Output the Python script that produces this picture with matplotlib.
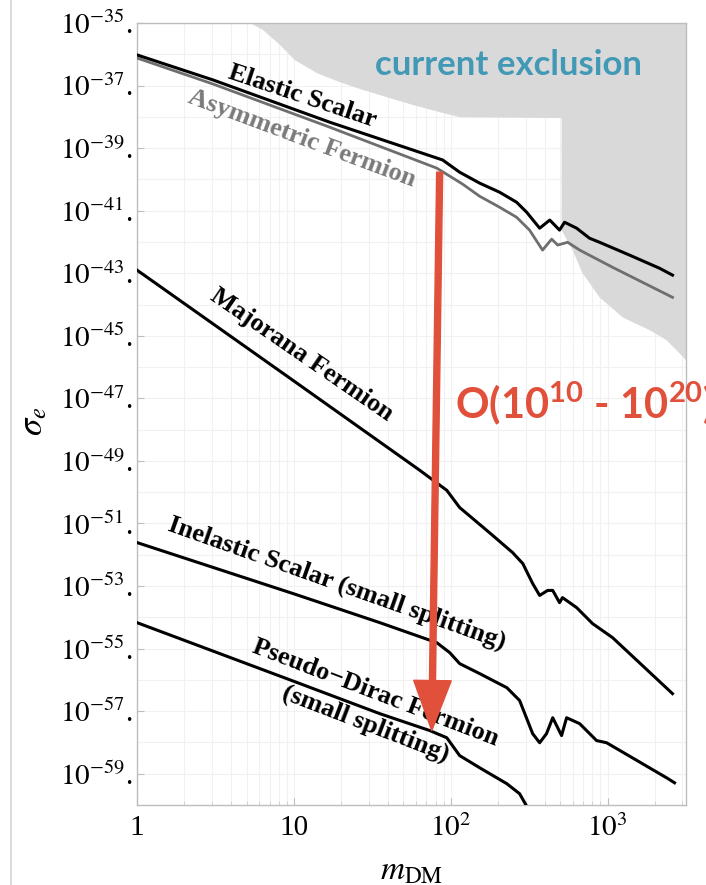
import matplotlib
matplotlib.use('Agg')
import matplotlib.pyplot as plt
import numpy as np

plt.rcParams['mathtext.fontset'] = 'stix'
plt.rcParams['mathtext.rm'] = 'Lato:bold'
plt.rcParams['mathtext.it'] = 'Lato:bold'
plt.rcParams['mathtext.bf'] = 'Lato:bold'

# ---- data (mass in GeV, cross section as log10) ----
m_elastic = [1, 3.05, 16.9, 88.9, 114, 153, 205, 263, 305, 369, 428, 494, 532, 635, 767, 889, 1380, 2143, 2594]
s_elastic = [-36.02, -36.82, -38.17, -39.38, -39.77, -40.12, -40.41, -40.73, -41.05, -41.56,
             -41.30, -41.62, -41.37, -41.56, -41.88, -42.01, -42.42, -42.84, -43.06]

m_asym = [1, 3.05, 16.9, 81.5, 119, 153, 205, 263, 318, 385, 440, 481, 556, 664, 1076, 2594]
s_asym = [-36.12, -36.95, -38.33, -39.64, -40.15, -40.54, -40.89, -41.21, -41.62, -42.26,
          -41.91, -42.10, -42.01, -42.26, -42.81, -43.77]

m_major = [1, 10.3, 63.5, 94.4, 114, 138, 185, 248, 288, 333, 369, 415, 447, 494, 516, 635, 802, 1076, 2594]
s_major = [-42.90, -46.49, -49.30, -49.94, -50.49, -50.84, -51.38, -51.93, -52.28, -52.92,
           -53.30, -53.14, -53.14, -53.53, -53.37, -53.69, -54.20, -54.65, -56.44]

m_inel = [1, 10.3, 35.3, 81.5, 98.6, 114, 153, 228, 275, 333, 369, 408, 447, 509, 548, 664, 851, 986, 2377, 2673]
s_inel = [-51.61, -53.27, -54.17, -54.81, -55.13, -55.48, -55.80, -56.25, -56.66, -57.72,
          -58.01, -57.72, -57.21, -57.78, -57.21, -57.40, -57.94, -58.01, -59.13, -59.29]

m_pdirac = [1, 10.3, 35.3, 73.5, 94.4, 114, 153, 228, 275, 318]
s_pdirac = [-54.17, -56.07, -57.08, -57.62, -57.85, -58.42, -58.81, -59.32, -59.64, -60.2]

m_excl = [5.25, 6.35, 8.15, 10.1, 14.0, 19.6, 27.5, 57.3, 85.1, 114, 509, 509, 598, 693,
          889, 1247, 1854, 2377, 2877, 3162, 3162]
s_excl = [-35.00, -35.22, -35.70, -36.18, -36.60, -36.89, -37.14, -37.62, -37.85, -38.01,
          -38.04, -41.62, -42.26, -43.00, -43.77, -44.41, -44.82, -45.14, -45.56, -45.78, -35.0]

y_tick_exp = [-35, -37, -39, -41, -43, -45, -47, -49, -51, -53, -55, -57, -59]
x_ticks = [1, 10, 100, 1000]
x_ticklabels = ['1', '10', r'$10^2$', r'$10^3$']

arrow_from = (85, -39.77)
arrow_to = (75.7, -57.62)

red = '#e1503a'
teal = '#4199b6'

fig = plt.figure(figsize=(7.06, 8.85), dpi=100)
ax = fig.add_axes([137 / 706, 80 / 885, 549 / 706, 782 / 885])

ax.set_xscale('log')
ax.set_yscale('log')
ax.set_xlim(1, 3162)
ax.set_ylim(1e-60, 1e-35)

# exclusion region
ax.fill(m_excl, 10.0 ** np.array(s_excl), color='#d9d9d9', lw=0, zorder=1)

ax.plot(m_asym, 10.0 ** np.array(s_asym), color='#6e6e6e', lw=2.0, zorder=3)
ax.plot(m_elastic, 10.0 ** np.array(s_elastic), color='black', lw=2.2, zorder=4)
ax.plot(m_major, 10.0 ** np.array(s_major), color='black', lw=2.2, zorder=4)
ax.plot(m_inel, 10.0 ** np.array(s_inel), color='black', lw=2.2, zorder=4)
ax.plot(m_pdirac, 10.0 ** np.array(s_pdirac), color='black', lw=2.2, zorder=4)

# ticks / grid
ax.set_yticks([10.0 ** e for e in y_tick_exp])
ax.set_yticklabels([r'$10^{%d}$.' % e for e in y_tick_exp], fontsize=21,
                   family='Liberation Serif')
ax.set_yticks([10.0 ** e for e in range(-60, -34)], minor=True)
ax.yaxis.set_minor_formatter(matplotlib.ticker.NullFormatter())
ax.set_xticks(x_ticks)
ax.set_xticklabels(x_ticklabels, fontsize=21, family='Liberation Serif')
ax.xaxis.set_minor_formatter(matplotlib.ticker.NullFormatter())
for lab in ax.get_yticklabels() + ax.get_xticklabels():
    lab.set_math_fontfamily('stix')

ax.tick_params(which='major', direction='in', length=5, color='#bdbdbd', pad=3)
ax.tick_params(which='minor', direction='in', length=3, color='#cfcfcf')
ax.tick_params(axis='y', which='minor', length=0)
ax.tick_params(axis='x', pad=7)
ax.grid(True, which='both', color='#f1f1f1', lw=0.8, zorder=0)
ax.set_axisbelow(True)
for sp in ax.spines.values():
    sp.set_color('#bdbdbd')
    sp.set_linewidth(1.0)

ax.set_ylabel(r'$\sigma_e$', fontsize=25)
ax.yaxis.set_label_coords(-0.16, 0.49)
ax.set_xlabel(r'$m_{\rm DM}$', fontsize=24, labelpad=8)

# curve labels
lab_kw = dict(family='Liberation Serif', fontweight='bold', fontsize=19,
              ha='center', va='center', rotation_mode='anchor', zorder=5)
ax.text(11.4, 10 ** -37.34, 'Elastic Scalar', rotation=-18.5, color='black', **lab_kw)
ax.text(11.2, 10 ** -38.68, 'Asymmetric Fermion', rotation=-20.5, color='#7a7a7a', **lab_kw)
ax.text(11.2, 10 ** -45.62, 'Majorana Fermion', rotation=-34.5, color='black', **lab_kw)
ax.text(18.8, 10 ** -52.92, 'Inelastic Scalar (small splitting)', rotation=-19.5,
        color='black', **lab_kw)
ax.text(33.3, 10 ** -56.41, 'Pseudo\u2212Dirac Fermion', rotation=-21, color='black', **lab_kw)
ax.text(28.7, 10 ** -57.40, '(small splitting)', rotation=-21, color='black', **lab_kw)

# red arrow
ax.annotate('', xy=(arrow_to[0], 10 ** arrow_to[1]),
            xytext=(arrow_from[0], 10 ** arrow_from[1]),
            arrowprops=dict(color=red, width=4.3, headwidth=27, headlength=36, shrink=0),
            zorder=6)

fig.text(508 / 706, 1 - 75 / 885, 'current exclusion', color=teal, fontsize=25,
         family='Lato', fontweight='bold', ha='center', va='baseline')
t = fig.text(455 / 706, 1 - 418 / 885, r'O(10$^{10}$ - 10$^{20}$)', color=red, fontsize=30,
             family='Lato', fontweight='bold', ha='left', va='baseline')
t.set_math_fontfamily('custom')

# screenshot border line on the left
fig.add_artist(plt.Line2D([11 / 706, 11 / 706], [0, 1], color='#d6d6d6', lw=1.2))

fig.savefig('out.png', dpi=100, facecolor='white')
